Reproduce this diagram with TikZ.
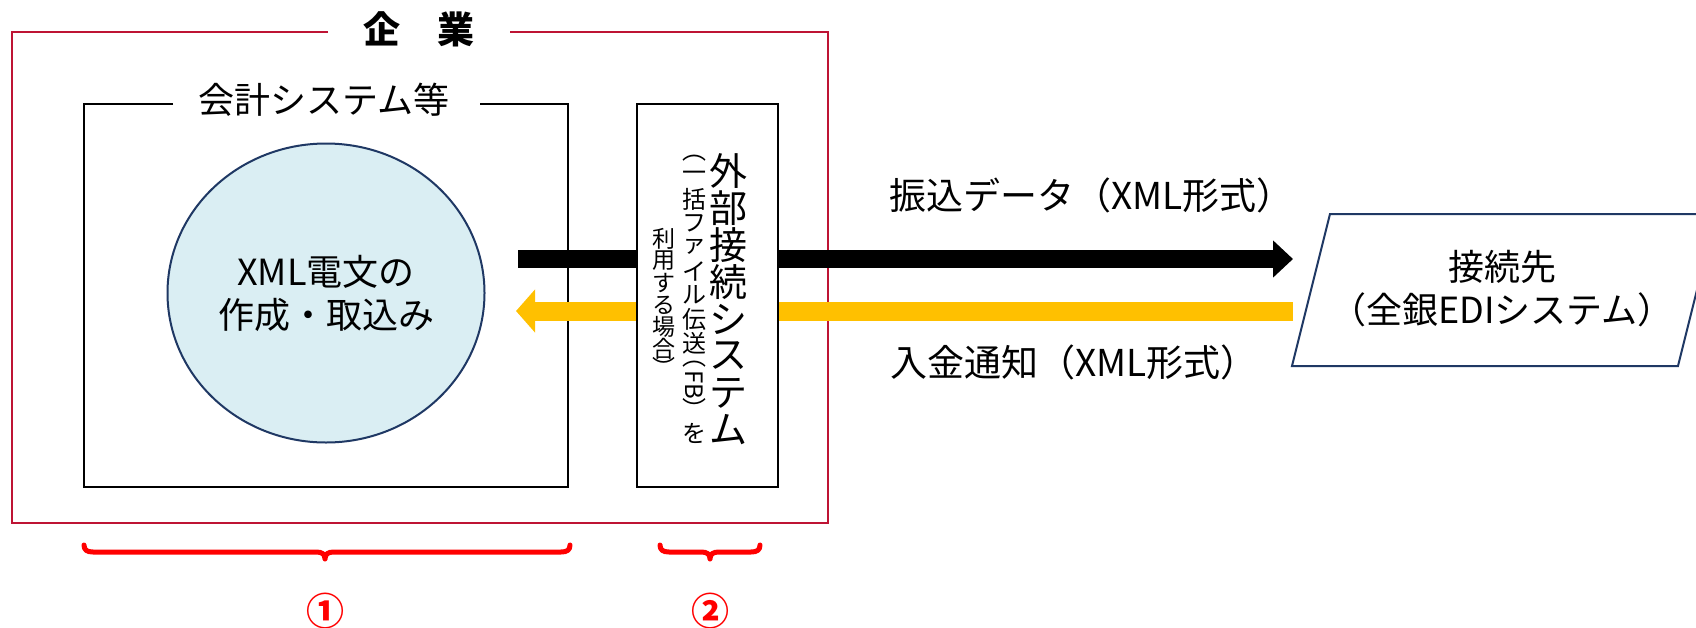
\documentclass[tikz,border=0pt]{standalone}
\usepackage{fontspec}
\setmainfont{Noto Sans CJK JP}
\usetikzlibrary{shapes.geometric,arrows.meta}
\definecolor{corpred}{RGB}{190,20,52}
\definecolor{bracered}{RGB}{255,0,0}
\definecolor{ellfill}{RGB}{218,238,243}
\definecolor{navy}{RGB}{31,56,100}
\definecolor{amber}{RGB}{255,192,0}
\begin{document}
\begin{tikzpicture}[x=1pt,y=-1pt,
  lbl/.style={inner sep=0pt, font=\fontsize{36}{43}\selectfont},
  arrlbl/.style={inner sep=0pt, font=\fontsize{37}{43}\selectfont},
  vmain/.style={inner sep=0pt, font=\fontsize{38}{38}\selectfont},
  vsub/.style={inner sep=0pt, font=\fontsize{24}{24}\selectfont},
  vsubb/.style={inner sep=0pt, font=\fontsize{23}{23}\selectfont},
  bracestyle/.style={bracered, line width=5pt, line cap=round, line join=round},
  numstyle/.style={inner sep=0pt, text=bracered, font=\fontsize{38}{38}\selectfont\bfseries}]
\useasboundingbox (0,0) rectangle (1696,627);
\fill[white] (0,0) rectangle (1696,627);

% company frame
\draw[corpred, line width=2.5pt] (328,32) -- (12,32) -- (12,523) -- (828,523) -- (828,32) -- (510,32);
\node[inner sep=0pt, font=\fontsize{37}{40}\selectfont\bfseries] (corp) at (419,29) {企　業};

% accounting system box
\draw[black, line width=2.5pt] (173,104) -- (84,104) -- (84,487) -- (568,487) -- (568,104) -- (480,104);
\node[lbl] (acct) at (324,100) {会計システム等};

\node[ellipse, draw=navy, line width=2pt, fill=ellfill, minimum width=317pt, minimum height=299pt,
      inner sep=0pt, align=center, font=\fontsize{36}{43}\selectfont] (xml) at (326,293) {XML電文の\\作成・取込み};

% arrows
\coordinate (bs) at (518,259);
\coordinate (be) at (1293,259);
\draw[black, line width=18pt, -{Triangle[length=20pt,width=36pt]}] (bs) -- (be);
\coordinate (ys) at (1293,311);
\coordinate (ye) at (516,311);
\draw[amber, line width=19pt, -{Triangle[length=19pt,width=42pt]}] (ys) -- (ye);

% external connection box
\node[draw, line width=2.5pt, fill=white, minimum width=141pt, minimum height=383pt, inner sep=0pt] (ext) at (707.5,295.5) {};
\foreach \yy/\ch [count=\i] in {171/外,208/部,245/接,282/続,319/シ,356/ス,393/テ,430/ム}
  \node[vmain] (m\i) at (728,\yy) {\ch};
\foreach \yy/\ch [count=\i] in {158/︵,176/一,199/括,223/フ,247/ァ,271/イ,295/ル,319/伝,343/送,364/︵,408/︶,433/を}
  \node[vsub] (s\i) at (694,\yy) {\ch};
\node[vsub, rotate=-90] (fb) at (694,385) {FB};
\foreach \yy/\ch [count=\i] in {239/利,261/用,283/す,305/る,327/場,349/合,367/︶}
  \node[vsubb] (t\i) at (664,\yy) {\ch};

% arrow labels
\node[arrlbl, anchor=west] (l1) at (889,195) {振込データ（XML形式）};
\node[arrlbl, anchor=west] (l2) at (890,362) {入金通知（XML形式）};

% destination
\coordinate (p1) at (1330,214);
\coordinate (p2) at (1716,214);
\coordinate (p3) at (1678,366);
\coordinate (p4) at (1292,366);
\draw[navy, line width=2pt] (p1) -- (p2) -- (p3) -- (p4) -- cycle;
\node[lbl, align=center] (dest) at (1502,288.5) {接続先\\（全銀EDIシステム）};

% braces
\draw[bracestyle] (84,545) .. controls (84,550) and (87,552) .. (93,552) -- (316,552)
   .. controls (322,552) and (325,554) .. (325,559) .. controls (325,554) and (328,552) .. (334,552)
   -- (561,552) .. controls (567,552) and (570,550) .. (570,545);
\draw[bracestyle] (660,545) .. controls (660,550) and (663,552) .. (669,552) -- (701,552)
   .. controls (707,552) and (710,554) .. (710,559) .. controls (710,554) and (713,552) .. (719,552)
   -- (751,552) .. controls (757,552) and (760,550) .. (760,545);
\node[numstyle] (n1) at (325,611) {①};
\node[numstyle] (n2) at (710,611) {②};
\end{tikzpicture}
\end{document}
